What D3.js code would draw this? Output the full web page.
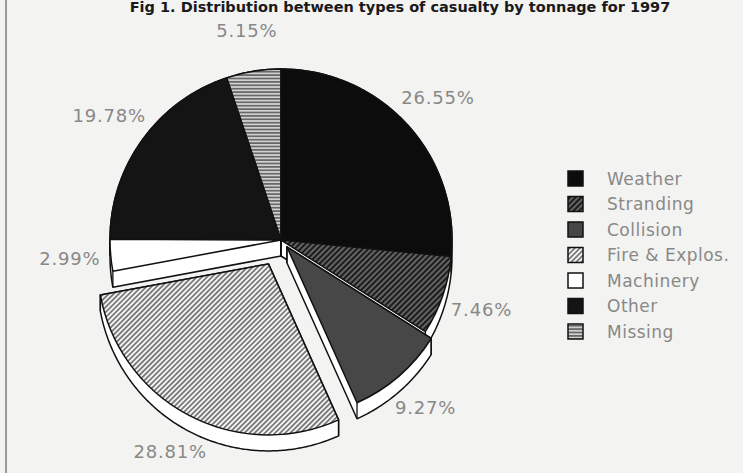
<!DOCTYPE html>
<html><head><meta charset="utf-8">
<script src="https://cdn.jsdelivr.net/npm/d3@7"></script>
<style>html,body{margin:0;padding:0;background:#f3f3f1;overflow:hidden}</style>
</head><body>
<svg id="chart" width="743" height="473"></svg>
<script>
const categories = ["Weather","Stranding","Collision","Fire & Explos.","Machinery","Other","Missing"];
const values = [26.55, 7.46, 9.27, 28.81, 2.99, 19.78, 5.15];
const labels = ["26.55%","7.46%","9.27%","28.81%","2.99%","19.78%","5.15%"];
const explode = [0, 0, 9, 27, 0, 0, 0];
const title = "Fig 1. Distribution between types of casualty by tonnage for 1997";

const svg = d3.select("#chart");
const W = 743, H = 473;
svg.append("rect").attr("width", W).attr("height", H).attr("fill", "#f3f3f1");
svg.append("line").attr("x1", 6).attr("x2", 6).attr("y1", 0).attr("y2", H)
  .attr("stroke", "#9a9a9a").attr("stroke-width", 2);

const defs = svg.append("defs");
function stripePattern(id, bg, fg, spacing, width, angle) {
  const p = defs.append("pattern").attr("id", id).attr("patternUnits", "userSpaceOnUse")
    .attr("width", spacing).attr("height", spacing)
    .attr("patternTransform", `rotate(${angle})`);
  p.append("rect").attr("width", spacing).attr("height", spacing).attr("fill", bg);
  p.append("line").attr("x1", spacing / 2).attr("x2", spacing / 2).attr("y1", 0).attr("y2", spacing)
    .attr("stroke", fg).attr("stroke-width", width);
}
stripePattern("pStrand", "#1c1c1c", "#8a8a8a", 4, 1.3, 45);
stripePattern("pFire", "#f4f4f4", "#6a6a6a", 3.6, 1.6, 45);
stripePattern("pMiss", "#d0d0d0", "#5a5a5a", 3.4, 1.5, 90);

const fills = ["#0c0c0c", "url(#pStrand)", "#474747", "url(#pFire)", "#ffffff", "#141414", "url(#pMiss)"];

svg.append("text").attr("x", 400).attr("y", 12).attr("text-anchor", "middle")
  .attr("font-family", "DejaVu Sans, sans-serif").attr("font-weight", "bold").attr("font-size", 14.5)
  .attr("fill", "#1a1a1a").text(title);

const cx = 281, cy = 240, R = 171, depth = 16;
const pie = d3.pie().sort(null).value(d => d)(values);
const arc = d3.arc().innerRadius(0).outerRadius(R);

const slices = pie.map((p, i) => {
  const mid = (p.startAngle + p.endAngle) / 2;
  const ox = Math.sin(mid) * explode[i], oy = -Math.cos(mid) * explode[i];
  const pts = [[ox, oy]];
  const n = Math.max(4, Math.ceil((p.endAngle - p.startAngle) / 0.01));
  for (let k = 0; k <= n; k++) {
    const a = p.startAngle + (p.endAngle - p.startAngle) * k / n;
    pts.push([ox + Math.sin(a) * R, oy - Math.cos(a) * R]);
  }
  const all = pts.concat(pts.map(q => [q[0], q[1] + depth]));
  const hull = d3.polygonHull(all);
  return {p, i, mid, ox, oy, hull, corners: [pts[0], pts[1], pts[pts.length - 1]]};
});

const g = svg.append("g").attr("transform", `translate(${cx},${cy})`);
const order = slices.slice().sort((a, b) => (-Math.cos(a.mid) + a.oy / R) - (-Math.cos(b.mid) + b.oy / R));
order.forEach(s => {
  g.append("path").attr("d", "M" + s.hull.map(q => q.join(",")).join("L") + "Z")
    .attr("fill", "#ffffff").attr("stroke", "#111").attr("stroke-width", 1.5).attr("stroke-linejoin", "round");
});
order.forEach(s => {
  s.corners.forEach(c => {
    g.append("line").attr("x1", c[0]).attr("y1", c[1]).attr("x2", c[0]).attr("y2", c[1] + depth)
      .attr("stroke", "#111").attr("stroke-width", 1.3);
  });
});
order.forEach(s => {
  g.append("path").attr("d", arc(s.p)).attr("transform", `translate(${s.ox},${s.oy})`)
    .attr("fill", fills[s.i]).attr("stroke", "#111").attr("stroke-width", 1.5).attr("stroke-linejoin", "round");
});

const labelR = 212;
slices.forEach(s => {
  const r = labelR + explode[s.i];
  g.append("text").attr("x", Math.sin(s.mid) * r).attr("y", -Math.cos(s.mid) * r)
    .attr("text-anchor", "middle").attr("dominant-baseline", "central")
    .attr("font-family", "DejaVu Sans, sans-serif").attr("font-size", 18).attr("letter-spacing", 0.8)
    .attr("fill", "#888").text(labels[s.i]);
});

const lg = svg.append("g").attr("transform", "translate(568,171)");
categories.forEach((c, i) => {
  const y = i * 25.5;
  lg.append("rect").attr("x", 0).attr("y", y).attr("width", 15).attr("height", 15)
    .attr("fill", fills[i]).attr("stroke", "#111").attr("stroke-width", 1.5);
  lg.append("text").attr("x", 39).attr("y", y + 7.5).attr("dominant-baseline", "central")
    .attr("font-family", "DejaVu Sans, sans-serif").attr("font-size", 17).attr("letter-spacing", 0.5)
    .attr("fill", "#888").text(c);
});
</script>
</body></html>
